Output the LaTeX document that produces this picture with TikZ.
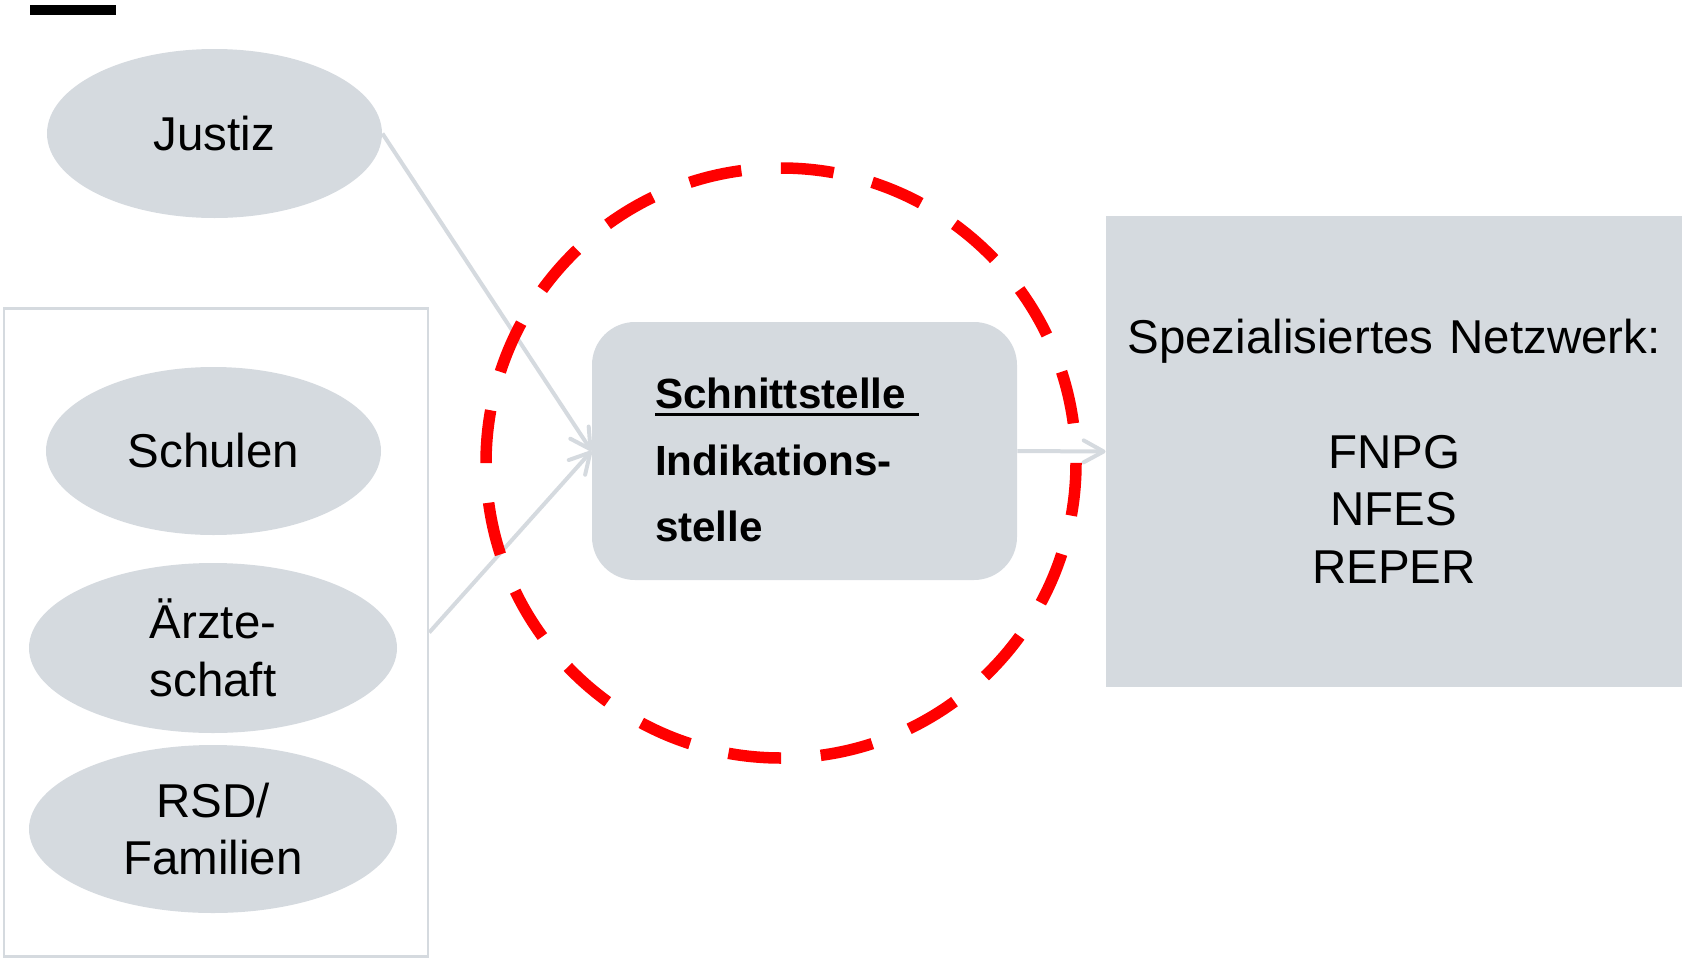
\documentclass[tikz,border=0pt]{standalone}
\usepackage{fontspec}
\setmainfont{Liberation Sans}
\usetikzlibrary{shapes.geometric,arrows.meta}
\definecolor{blockgray}{RGB}{213,218,223}
\definecolor{ringred}{RGB}{255,0,0}

\begin{document}
\begin{tikzpicture}[x=0.5pt,y=-0.5pt,
		oval/.style={ellipse,fill=blockgray,inner sep=0pt,align=center,font=\fontsize{23.75pt}{28.75pt}\selectfont},
		link/.style={draw=blockgray,line width=2pt,-{Straight Barb[length=10pt,width=11pt,round]}}]
		\useasboundingbox (0,0) rectangle (1682,959);
		\fill (30,5) rectangle (116,15);
		\node[oval,minimum width=167.5pt,minimum height=84.5pt] (justiz) at (214.5,133.5) {Justiz};
		\node[draw=blockgray,line width=1.25pt,minimum width=212pt,minimum height=324pt,inner sep=0pt] (gruppe) at (216,632.5) {};
		\node[oval,minimum width=167.5pt,minimum height=84pt] (schulen) at (213.5,451) {Schulen};
		\node[oval,minimum width=184pt,minimum height=85pt] (aerzte) at (213,648) {Ärzte-\\schaft};
		\node[oval,minimum width=184pt,minimum height=84pt] (rsd) at (213,829) {RSD/\\Familien};
		\node[fill=blockgray,rounded corners=21.5pt,minimum width=212.5pt,minimum height=129pt,text width=149.5pt,inner xsep=31.5pt,inner ysep=0pt,align=left,text height=24.5pt,font=\bfseries\fontsize{21.1pt}{33.25pt}\selectfont] (schnitt) at (804.5,451) {\makebox[0pt][l]{\rule[-3.75pt]{132pt}{1.5pt}}Schnittstelle\\Indikations-\\stelle};
		\node[fill=blockgray,minimum width=288pt,minimum height=235.5pt,inner sep=0pt,text width=288pt,align=center,text height=16.5pt,font=\fontsize{23.75pt}{28.75pt}\selectfont] (netz) at (1394,451.5) {Spezialisiertes Netzwerk:\\[28.75pt]FNPG\\NFES\\REPER};
		\draw[link] (justiz.east) -- (schnitt.west);
		\draw[link] (gruppe.east) -- (schnitt.west);
		\draw[link] (schnitt.east) -- (netz.west);
		\coordinate (ring) at (781,463);
		\draw[ringred,line width=5.75pt,dash pattern=on 26.5pt off 19.84pt] (ring) ++(180:295) arc[start angle=180,end angle=540,radius=295];
\end{tikzpicture}
\end{document}
